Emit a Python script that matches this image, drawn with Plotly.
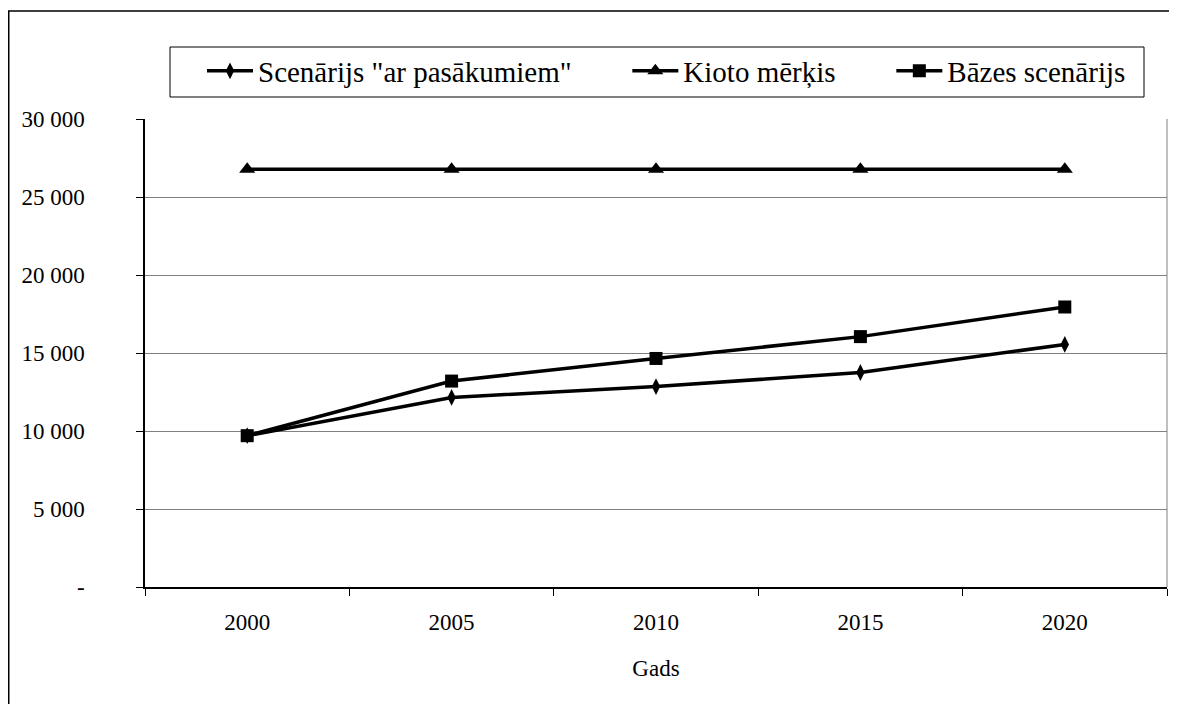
import plotly.graph_objects as go

years = ["2000", "2005", "2010", "2015", "2020"]
ar_pasakumiem = [9700, 12150, 12850, 13750, 15550]
kioto = [26780, 26780, 26780, 26780, 26780]
bazes = [9700, 13200, 14650, 16050, 17950]

y_tickvals = [0, 5000, 10000, 15000, 20000, 25000, 30000]
y_ticktext = ["-", "5 000", "10 000", "15 000", "20 000", "25 000", "30 000"]

names = ['Scenārijs "ar pasākumiem"', "Kioto mērķis", "Bāzes scenārijs"]
PAD = "\u00a0" * 7

FONT = "Liberation Serif"

fig = go.Figure()
fig.add_trace(go.Scatter(x=years, y=ar_pasakumiem, name=names[0] + PAD,
                         mode="lines+markers", line=dict(color="black", width=3.5),
                         marker=dict(symbol="diamond-tall", size=12, color="black")))
fig.add_trace(go.Scatter(x=years, y=kioto, name=names[1] + PAD,
                         mode="lines+markers", line=dict(color="black", width=3.5),
                         marker=dict(symbol="triangle-up", size=14, color="black")))
fig.add_trace(go.Scatter(x=years, y=bazes, name=names[2],
                         mode="lines+markers", line=dict(color="black", width=3.5),
                         marker=dict(symbol="square", size=13, color="black")))

# page has an 8px body margin: screen coords = figure coords + 8
OFF = 8
SL, SR, ST, SB = 145, 1167, 119, 587  # plot area in screen px
W, H = 1177, 704
L = SL - OFF
T = ST - OFF
R = W - (SR - OFF)
B = H - (SB - OFF)
pw = SR - SL
ph = SB - ST


def px_x(p):
    return (p - SL) / pw


def px_y(p):
    return (SB - p) / ph


fig.update_layout(
    width=W, height=H,
    margin=dict(l=L, r=R, t=T, b=B),
    paper_bgcolor="white", plot_bgcolor="white",
    font=dict(family=FONT, size=23, color="black"),
    showlegend=True,
    legend=dict(orientation="h", x=px_x(202), xanchor="left", y=px_y(71), yanchor="middle",
                borderwidth=0, font=dict(size=29, family=FONT),
                bgcolor="rgba(0,0,0,0)", itemwidth=46),
    xaxis=dict(type="category", range=[-0.5, 4.5], tickson="boundaries", ticks="outside",
               ticklen=7, tickcolor="black", showline=True, linecolor="black", linewidth=1.5,
               showgrid=False, zeroline=False, ticklabelstandoff=14,
               tickfont=dict(family=FONT, size=23),
               title=dict(text="Gads", font=dict(size=23, family=FONT), standoff=26)),
    yaxis=dict(range=[0, 30000], tickvals=y_tickvals, ticktext=y_ticktext, ticks="outside",
               ticklen=7, tickcolor="black", showline=True, linecolor="black", linewidth=1.5,
               showgrid=True, gridcolor="#808080", gridwidth=1, zeroline=False,
               tickfont=dict(family=FONT, size=23),
               ticklabelstandoff=47),
    shapes=[
        dict(type="line", xref="paper", yref="paper", x0=1, x1=1, y0=0, y1=1,
             line=dict(color="#808080", width=1)),
        dict(type="rect", xref="paper", yref="paper", x0=px_x(170), x1=px_x(1144),
             y0=px_y(97), y1=px_y(47), line=dict(color="black", width=1), layer="below"),
        dict(type="rect", xref="paper", yref="paper", x0=px_x(8.75), x1=px_x(1300),
             y0=px_y(800), y1=px_y(11), line=dict(color="black", width=1.5), layer="below"),
    ],
)

fig.write_html("out.html")
